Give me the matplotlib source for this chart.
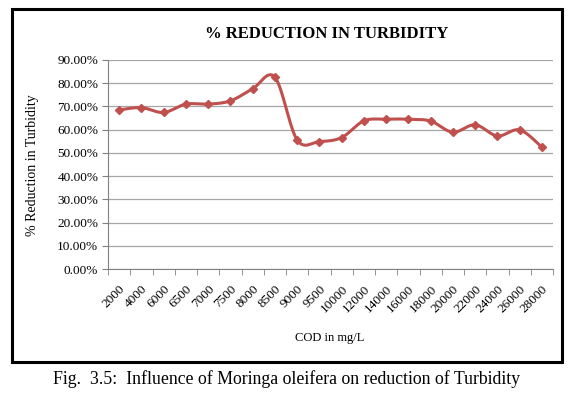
import numpy as np
import matplotlib
matplotlib.use("Agg")
import matplotlib.pyplot as plt
from matplotlib.patches import Rectangle
from matplotlib.ticker import FuncFormatter, FixedLocator

categories = ["2000", "4000", "6000", "6500", "7000", "7500", "8000", "8500", "9000", "9500",
              "10000", "12000", "14000", "16000", "18000", "20000", "22000", "24000", "26000", "28000"]
reduction = [0.685, 0.695, 0.674, 0.710, 0.710, 0.724, 0.776, 0.826, 0.556, 0.549,
             0.566, 0.638, 0.645, 0.645, 0.637, 0.589, 0.621, 0.573, 0.599, 0.525]

plt.rcParams['font.family'] = ['Liberation Serif', 'DejaVu Serif']

W, H = 574, 397
fig = plt.figure(figsize=(W / 100, H / 100), dpi=100)

def fx(px):
    return px / W

def fy(py):
    return 1 - py / H

left, right, top, bottom = 108, 553, 60, 269
ax = fig.add_axes([fx(left), fy(bottom), fx(right) - fx(left), fy(top) - fy(bottom)])

x = np.arange(len(categories))
y = np.array(reduction)

# Catmull-Rom (Excel-like smoothing)
P = np.column_stack([x, y]).astype(float)
ext = np.vstack([P[0], P, P[-1]])
curve = []
t = np.linspace(0, 1, 30)
for i in range(1, len(ext) - 2):
    p0, p1, p2, p3 = ext[i - 1], ext[i], ext[i + 1], ext[i + 2]
    c1 = p1 + (p2 - p0) / 6
    c2 = p2 - (p3 - p1) / 6
    seg = ((1 - t) ** 3)[:, None] * p1 + (3 * (1 - t) ** 2 * t)[:, None] * c1 + \
          (3 * (1 - t) * t ** 2)[:, None] * c2 + (t ** 3)[:, None] * p2
    curve.append(seg)
curve = np.vstack(curve)

color = '#C0504D'
ax.plot(curve[:, 0], curve[:, 1], color=color, lw=2.2, zorder=3)
ax.plot(x, y, linestyle='none', marker='D', ms=4.5, color=color, zorder=4)

ax.set_xlim(-0.5, len(categories) - 0.5)
ax.set_ylim(0, 0.9)
ax.set_yticks(np.arange(0, 0.91, 0.1))
ax.yaxis.set_major_formatter(FuncFormatter(lambda v, p: f"{v*100:.2f}%"))
ax.grid(axis='y', color='#A6A6A6', lw=0.9)
ax.set_axisbelow(True)

ax.set_xticks(x)
ax.set_xticklabels(categories, rotation=45, ha='right', rotation_mode='anchor', fontsize=9.5)
ax.tick_params(axis='x', length=0, pad=10)
ax.xaxis.set_minor_locator(FixedLocator(np.arange(-0.5, len(categories), 1)))
ax.tick_params(axis='x', which='minor', length=4, color='#808080', direction='out')
ax.tick_params(axis='y', length=4, color='#808080', labelsize=9.5, pad=3)

for s in ['top', 'right']:
    ax.spines[s].set_visible(False)
for s in ['left', 'bottom']:
    ax.spines[s].set_color('#808080')

fig.text(fx(330), fy(338), "COD in mg/L", ha='center', va='center', fontsize=9)
fig.text(fx(33), fy(165), "% Reduction in Turbidity", ha='center', va='center',
         fontsize=10, rotation=90)

fig.text(fx(327), fy(34), "% REDUCTION IN TURBIDITY", ha='center', va='center',
         fontsize=12, fontweight='bold')

# outer frame
fig.patches.append(Rectangle((fx(12), fy(362)), fx(562) - fx(12), fy(9) - fy(362),
                             transform=fig.transFigure, fill=False, ec='black', lw=2.2))

fig.text(fx(287), fy(379), "Fig.  3.5:  Influence of Moringa oleifera on reduction of Turbidity",
         ha='center', va='center', fontsize=12.8)

fig.savefig("out.png", dpi=100)
